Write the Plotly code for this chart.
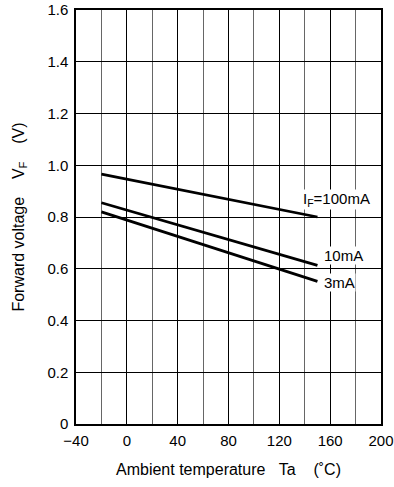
import plotly.graph_objects as go

temps = [-20, 150]
vf_100mA = [0.966, 0.800]
vf_10mA = [0.855, 0.613]
vf_3mA = [0.820, 0.551]
series_labels = ["I<sub>F</sub>=100mA", "10mA", "3mA"]
label_x = [138, 154, 154]
label_y = [0.866, 0.653, 0.545]

x_tickvals = [-40, 0, 40, 80, 120, 160, 200]
x_ticktext = ["\u221240", "0", "40", "80", "120", "160", "200"]
y_tickvals = [0, 0.2, 0.4, 0.6, 0.8, 1.0, 1.2, 1.4, 1.6]
y_ticktext = ["0", "0.2", "0.4", "0.6", "0.8", "1.0", "1.2", "1.4", "1.6"]

FONT = "Liberation Sans, Arial, sans-serif"

fig = go.Figure()
for ys in (vf_100mA, vf_10mA, vf_3mA):
    fig.add_trace(go.Scatter(x=temps, y=ys, mode="lines",
                             line=dict(color="black", width=2.8),
                             showlegend=False, hoverinfo="skip"))

for x, y, t in zip(label_x, label_y, series_labels):
    fig.add_annotation(x=x, y=y, text=t, showarrow=False, xanchor="left",
                       yanchor="middle", font=dict(size=15, color="black", family=FONT),
                       bgcolor="white", borderpad=0)

fig.update_layout(
    width=394, height=487,
    margin=dict(l=76, r=13, t=10, b=63, autoexpand=False),
    paper_bgcolor="white", plot_bgcolor="white",
    font=dict(family=FONT, size=15, color="black"),
)
fig.update_xaxes(
    range=[-40, 200], tickvals=x_tickvals, ticktext=x_ticktext,
    showgrid=True, gridcolor="black", gridwidth=1,
    minor=dict(tick0=-40, dtick=20, showgrid=True, gridcolor="#666", gridwidth=1),
    showline=True, linecolor="black", linewidth=1.5, mirror=True,
    zeroline=False, ticks="", ticklabelstandoff=2, automargin=False,
    tickfont=dict(size=15),
    title=dict(text="Ambient temperature\u00a0\u00a0\u00a0Ta\u00a0\u00a0\u00a0\u00a0(\u02daC)",
               font=dict(size=16), standoff=16),
)
fig.update_yaxes(
    range=[0, 1.6], tickvals=y_tickvals, ticktext=y_ticktext,
    showgrid=True, gridcolor="black", gridwidth=1,
    showline=True, linecolor="black", linewidth=1.5, mirror=True,
    zeroline=False, ticks="", ticklabelstandoff=3, automargin=False,
    tickfont=dict(size=15),
    title=dict(text="Forward voltage\u00a0\u00a0\u00a0\u00a0V<sub>F</sub>\u00a0\u00a0\u00a0\u00a0(V)",
               font=dict(size=16), standoff=19),
)

fig.write_html("out.html", config={"displayModeBar": False},
               post_script="document.body.style.margin='0';document.body.style.overflow='hidden';")
